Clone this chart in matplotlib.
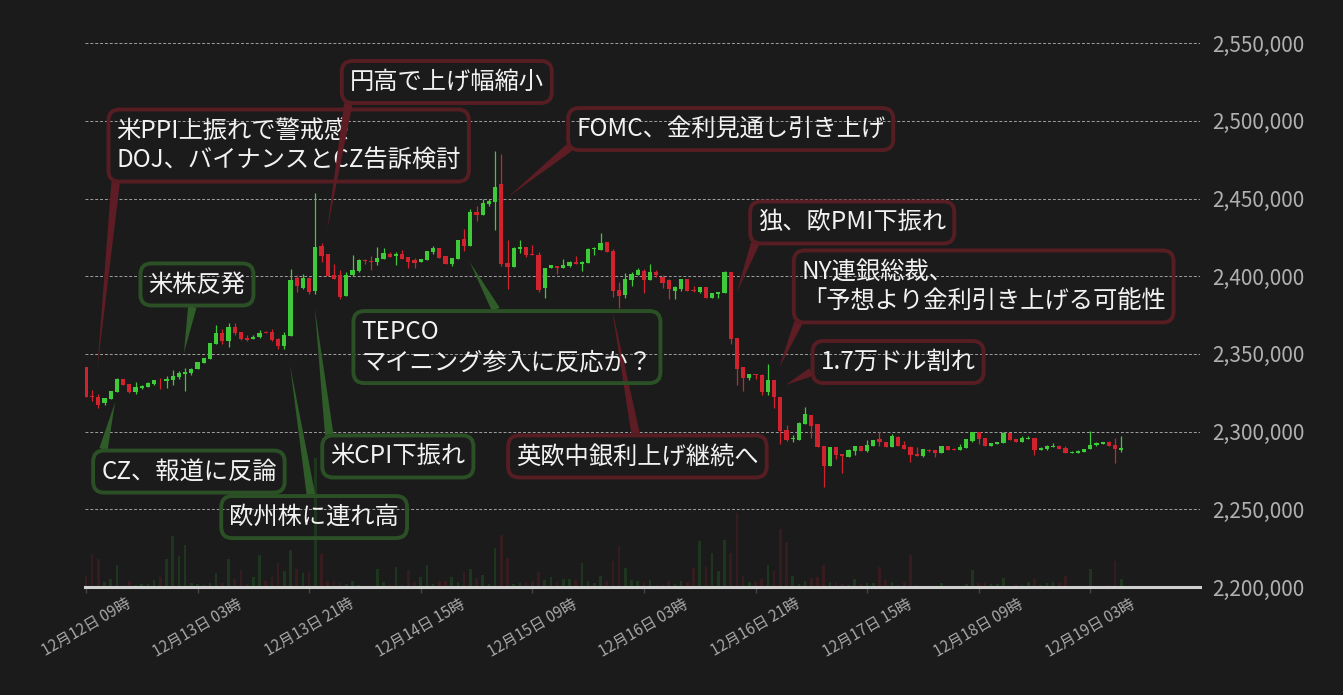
import numpy as np
import matplotlib.pyplot as plt
from matplotlib.ticker import FuncFormatter

plt.rcParams['font.family'] = ['Noto Sans CJK JP', 'DejaVu Sans']

BG = '#1b1b1b'
UP = '#3fca3a'
DOWN = '#d0232e'

## hourly candles, 12/12 09:00 -> 12/19 08:00
opens = [2341400, 2322300, 2322300, 2318700, 2321200, 2325700, 2333900, 2330700, 2325500, 2328100,
         2328500, 2330900, 2333300, 2332600, 2333300, 2335200, 2337300, 2337800, 2340300, 2344400,
         2347000, 2356700, 2363500, 2358600, 2367400, 2364000, 2360500, 2359400, 2361200, 2363800,
         2364200, 2359600, 2354900, 2361800, 2398900, 2392700, 2398900, 2390800, 2419500, 2414500,
         2400900, 2400900, 2387400, 2401100, 2403500, 2410200, 2410000, 2408900, 2411300, 2414500,
         2412800, 2414500, 2412600, 2410200, 2408900, 2410600, 2415800, 2418400, 2413200, 2408000,
         2411300, 2424200, 2419700, 2441100, 2439200, 2446300, 2447600, 2459300, 2408700, 2406100,
         2417800, 2419100, 2414500, 2413900, 2392600, 2405000, 2406700, 2405600, 2406700, 2409300,
         2408000, 2408700, 2417600, 2417100, 2422300, 2416500, 2391100, 2387900, 2397600, 2400900,
         2403500, 2397600, 2402800, 2399600, 2397600, 2390500, 2391800, 2398300, 2391300, 2389800,
         2393100, 2385900, 2388500, 2389200, 2402600, 2360300, 2341400, 2334300, 2336700, 2336700,
         2325400, 2333500, 2322200, 2300900, 2295000, 2294500, 2304700, 2310400, 2304700, 2290600,
         2277800, 2290000, 2285500, 2283800, 2287600, 2290600, 2287600, 2290600, 2295100, 2293400,
         2289900, 2296400, 2291200, 2289900, 2285400, 2284100, 2288000, 2288000, 2286100, 2290600,
         2288800, 2288000, 2289300, 2293800, 2299600, 2295700, 2290600, 2292100, 2292500, 2298900,
         2295100, 2293400, 2295300, 2295700, 2288000, 2288600, 2290000, 2290600, 2289300, 2286300,
         2286300, 2286900, 2288600, 2291200, 2292100, 2293100, 2291200, 2288000]
closes = [2322500, 2322000, 2317200, 2321500, 2326200, 2333900, 2330300, 2325700, 2328800, 2329200,
          2331300, 2333300, 2332900, 2334100, 2335800, 2338000, 2338600, 2340300, 2344800, 2347400,
          2357100, 2363500, 2358400, 2367400, 2363700, 2359900, 2359200, 2360900, 2363500, 2363400,
          2359200, 2354900, 2362200, 2397600, 2393800, 2398900, 2390100, 2418900, 2413300, 2400200,
          2398500, 2386800, 2400900, 2404100, 2410600, 2409800, 2408900, 2411900, 2415200, 2412600,
          2414500, 2411300, 2409300, 2408400, 2411300, 2416500, 2418400, 2411900, 2408000, 2411900,
          2423600, 2419700, 2441100, 2439200, 2447000, 2448300, 2457400, 2408000, 2406100, 2418400,
          2419100, 2413900, 2413400, 2391100, 2405400, 2407400, 2405600, 2407400, 2409300, 2408000,
          2409300, 2417800, 2418200, 2421600, 2415800, 2390500, 2387200, 2398300, 2401500, 2404100,
          2397600, 2402800, 2400900, 2395700, 2391800, 2393100, 2398300, 2390500, 2390800, 2393100,
          2385900, 2389200, 2389800, 2402800, 2359700, 2340100, 2334300, 2336900, 2336300, 2325400,
          2333500, 2322200, 2300200, 2294500, 2295300, 2305300, 2311100, 2303400, 2290200, 2277800,
          2290000, 2285100, 2284400, 2288100, 2290600, 2287600, 2291300, 2294500, 2293400, 2290200,
          2297000, 2290800, 2288800, 2285000, 2284100, 2288600, 2287600, 2286300, 2290600, 2288000,
          2288200, 2289900, 2295100, 2299600, 2295100, 2290600, 2292500, 2293100, 2298900, 2294400,
          2293400, 2295700, 2295700, 2288000, 2289300, 2290600, 2290600, 2288800, 2286300, 2286900,
          2287600, 2288600, 2291200, 2292500, 2293100, 2290600, 2288600, 2289300]
highs = [2341400, 2326800, 2324200, 2321500, 2326200, 2334500, 2333900, 2330700, 2332000, 2330300,
         2332000, 2333300, 2334500, 2335800, 2339700, 2339000, 2341200, 2341000, 2344800, 2347400,
         2357100, 2368700, 2366100, 2370000, 2370000, 2364000, 2362000, 2362200, 2365500, 2364600,
         2366100, 2360300, 2364200, 2404700, 2400800, 2401500, 2399600, 2453600, 2421500, 2414500,
         2407800, 2403700, 2402800, 2413900, 2411300, 2411300, 2413200, 2419100, 2418200, 2415800,
         2415800, 2417100, 2412600, 2412000, 2411300, 2416500, 2419700, 2418400, 2413200, 2411900,
         2423600, 2430100, 2443100, 2445000, 2449600, 2449600, 2480800, 2478800, 2423000, 2419100,
         2423000, 2419100, 2420400, 2415800, 2405400, 2407400, 2406700, 2411300, 2409900, 2413200,
         2410000, 2418200, 2419100, 2427500, 2422300, 2417800, 2396300, 2402200, 2402800, 2405400,
         2404800, 2408000, 2404100, 2400900, 2398300, 2393700, 2398300, 2398300, 2393700, 2393100,
         2393100, 2389200, 2389800, 2403500, 2402600, 2360300, 2341400, 2337300, 2337300, 2337300,
         2343700, 2333500, 2322200, 2304100, 2298000, 2305900, 2315600, 2310400, 2304700, 2290600,
         2290000, 2290000, 2285500, 2288700, 2290600, 2290600, 2294900, 2294900, 2300000, 2293400,
         2298300, 2297000, 2293800, 2290600, 2289900, 2288600, 2288600, 2288000, 2290600, 2290600,
         2289500, 2291800, 2295100, 2299600, 2299600, 2295700, 2292500, 2293100, 2300000, 2298900,
         2295100, 2297000, 2297000, 2295700, 2289900, 2291200, 2292500, 2291200, 2290600, 2287600,
         2288200, 2288600, 2300200, 2293100, 2293100, 2293800, 2295700, 2297000]
lows = [2322500, 2320000, 2315500, 2317200, 2321200, 2325700, 2330300, 2324700, 2324500, 2327500,
        2328500, 2329800, 2327500, 2328100, 2330300, 2334000, 2326200, 2336700, 2340300, 2344400,
        2347000, 2356700, 2356700, 2354700, 2362400, 2359200, 2358600, 2359400, 2360000, 2363400,
        2358600, 2353000, 2353000, 2361800, 2390100, 2391700, 2388800, 2388800, 2409400, 2400200,
        2398100, 2385300, 2387400, 2400000, 2402600, 2408000, 2403700, 2407400, 2411300, 2412200,
        2407400, 2411300, 2405600, 2405200, 2408900, 2410600, 2414000, 2411900, 2407600, 2406900,
        2411300, 2416500, 2419700, 2435500, 2439200, 2445300, 2429700, 2406700, 2391800, 2406100,
        2415200, 2412300, 2413400, 2389800, 2386100, 2405000, 2401700, 2405600, 2406100, 2408000,
        2403500, 2408700, 2413900, 2417100, 2415800, 2386600, 2379400, 2385900, 2393700, 2400900,
        2389200, 2397600, 2399600, 2392400, 2385300, 2385300, 2390500, 2390500, 2390100, 2389200,
        2385900, 2385900, 2385900, 2389200, 2356300, 2329900, 2326000, 2333100, 2333700, 2323500,
        2323500, 2315100, 2292300, 2294100, 2293400, 2294500, 2304700, 2295700, 2290200, 2264600,
        2277800, 2282300, 2273600, 2283800, 2285000, 2287600, 2287000, 2290600, 2290600, 2290200,
        2289900, 2290800, 2288800, 2280500, 2284100, 2283700, 2287000, 2283700, 2286100, 2288000,
        2288200, 2288000, 2289300, 2293200, 2291800, 2290600, 2290600, 2292100, 2292500, 2294400,
        2293400, 2293400, 2295300, 2285000, 2288000, 2288000, 2290000, 2288800, 2286300, 2286300,
        2286300, 2286900, 2288600, 2290600, 2292100, 2290600, 2279800, 2287000]
volume = [33, 98, 83, 15, 23, 66, 6, 18, 6, 9,
          9, 21, 30, 83, 153, 93, 126, 12, 9, 6,
          12, 42, 12, 83, 24, 50, 9, 30, 96, 18,
          30, 72, 48, 110, 54, 42, 45, 387, 98, 18,
          18, 12, 9, 18, 6, 3, 3, 53, 15, 6,
          60, 6, 50, 15, 30, 66, 9, 18, 18, 30,
          15, 45, 54, 27, 36, 9, 118, 157, 86, 9,
          12, 15, 18, 46, 21, 30, 15, 24, 24, 21,
          72, 18, 12, 33, 18, 78, 123, 57, 21, 18,
          15, 21, 6, 6, 18, 9, 18, 15, 56, 138,
          60, 102, 48, 141, 102, 223, 33, 15, 15, 24,
          66, 48, 174, 135, 33, 9, 18, 27, 30, 66,
          15, 15, 9, 6, 24, 9, 12, 12, 60, 21,
          15, 6, 15, 96, 6, 3, 3, 3, 12, 3,
          3, 3, 9, 51, 12, 15, 9, 9, 27, 3,
          9, 6, 15, 24, 6, 12, 15, 12, 33, 3,
          0, 0, 54, 3, 0, 6, 78, 24]

tick_labels = ['12月12日 09時', '12月13日 03時', '12月13日 21時', '12月14日 15時', '12月15日 09時',
               '12月16日 03時', '12月16日 21時', '12月17日 15時', '12月18日 09時', '12月19日 03時']

## (text, box centre x/price, arrow tip x/price, relpos, colour)
notes = [
    ('米PPI上振れで警戒感\nDOJ、バイナンスとCZ告訴検討', 32.7, 2484100, 1.8, 2339600, (0, 0), 'r'),
    ('円高で上げ幅縮小', 58.2, 2525000, 38.9, 2429700, (0, 0), 'r'),
    ('FOMC、金利見通し引き上げ', 104.0, 2494700, 68.1, 2451000, (0, 0), 'r'),
    ('独、欧PMI下振れ', 123.6, 2434600, 105.0, 2389800, (0, 0), 'r'),
    ('NY連銀総裁、\n「予想より金利引き上げる可能性', 144.8, 2393400, 111.8, 2340900, (0, 0), 'r'),
    ('1.7万ドル割れ', 131.0, 2344800, 112.9, 2330000, (0, 0.3), 'r'),
    ('英欧中銀利上げ継続へ', 88.95, 2284000, 84.8, 2380200, (0.5, 1), 'r'),
    ('米株反発', 17.9, 2394700, 15.8, 2350600, (0.47, 0), 'g'),
    ('TEPCO\nマイニング参入に反応か？', 67.9, 2354400, 61.9, 2409100, (0.48, 1), 'g'),
    ('CZ、報道に反論', 16.6, 2274300, 4.7, 2319000, (0, 1), 'g'),
    ('米CPI下振れ', 50.3, 2284000, 36.9, 2379500, (0, 1), 'g'),
    ('欧州株に連れ高', 36.8, 2245000, 32.9, 2342900, (0.49, 1), 'g'),
]
box_col = {'r': '#561d23', 'g': '#2b5026'}
arrow_col = {'r': '#5e1d24', 'g': '#2f5c29'}

o = np.array(opens)
c = np.array(closes)
h = np.array(highs)
l = np.array(lows)
x = np.arange(len(o))
up = c >= o
cols = np.where(up, UP, DOWN)

fig = plt.figure(figsize=(13.43, 6.95), dpi=100, facecolor=BG)
rect = [85 / 1343, 1 - 587 / 695, (1200 - 85) / 1343, (587 - 27.6) / 695]
vax = fig.add_axes(rect)
ax = fig.add_axes(rect)
xlim = (-0.16, 179.7)

## volume behind the candles
vax.set_facecolor(BG)
vax.bar(x, volume, width=0.42, color=np.where(up, '#1f361e', '#361c1e'))
vax.set_xlim(xlim)
vax.set_ylim(0, 1680)
vax.axis('off')

ax.patch.set_alpha(0)
ax.vlines(x, l, h, colors=cols, lw=0.9, zorder=3)
ax.bar(x, np.maximum(np.abs(c - o), 600), bottom=np.minimum(o, c), width=0.68,
       color=cols, lw=0, zorder=4)

ax.set_xlim(xlim)
ax.set_ylim(2200000, 2560000)
ax.set_yticks(np.arange(2200000, 2550001, 50000))
ax.yaxis.set_major_formatter(FuncFormatter(lambda v, p: f'{v:,.0f}'))
ax.yaxis.tick_right()
ax.tick_params(axis='y', length=0, pad=9, labelsize=15, labelcolor='#b0b0b0')
ax.set_xticks(np.arange(0, 168, 18))
ax.set_xticklabels(tick_labels, rotation=30, ha='center')
ax.tick_params(axis='x', length=4, width=1, color='#444444', pad=2,
               labelsize=11, labelcolor='#a8a8a8')
ax.grid(axis='y', color='#a0a0a0', linestyle=(0, (3, 2)), lw=0.7)
ax.set_axisbelow(True)
for s in ['top', 'left', 'right']:
    ax.spines[s].set_visible(False)
ax.spines['bottom'].set_color('#d0d0d0')
ax.spines['bottom'].set_linewidth(2.2)
ax.spines['bottom'].set_zorder(6)

for text, tx, ty, px, py, rp, k in notes:
    ax.annotate(text, xy=(px, py), xytext=(tx, ty), ha='center', va='center',
                multialignment='left', fontsize=17.5, color='#f2f2f2', zorder=7,
                annotation_clip=False,
                bbox=dict(boxstyle='round,pad=0.33,rounding_size=0.45', fc='none',
                          ec=box_col[k], lw=2.8),
                arrowprops=dict(arrowstyle='wedge,tail_width=0.35', fc=arrow_col[k],
                                ec=arrow_col[k], lw=0, relpos=rp, shrinkA=0, shrinkB=0))

fig.savefig('out.png', dpi=100, facecolor=BG)
